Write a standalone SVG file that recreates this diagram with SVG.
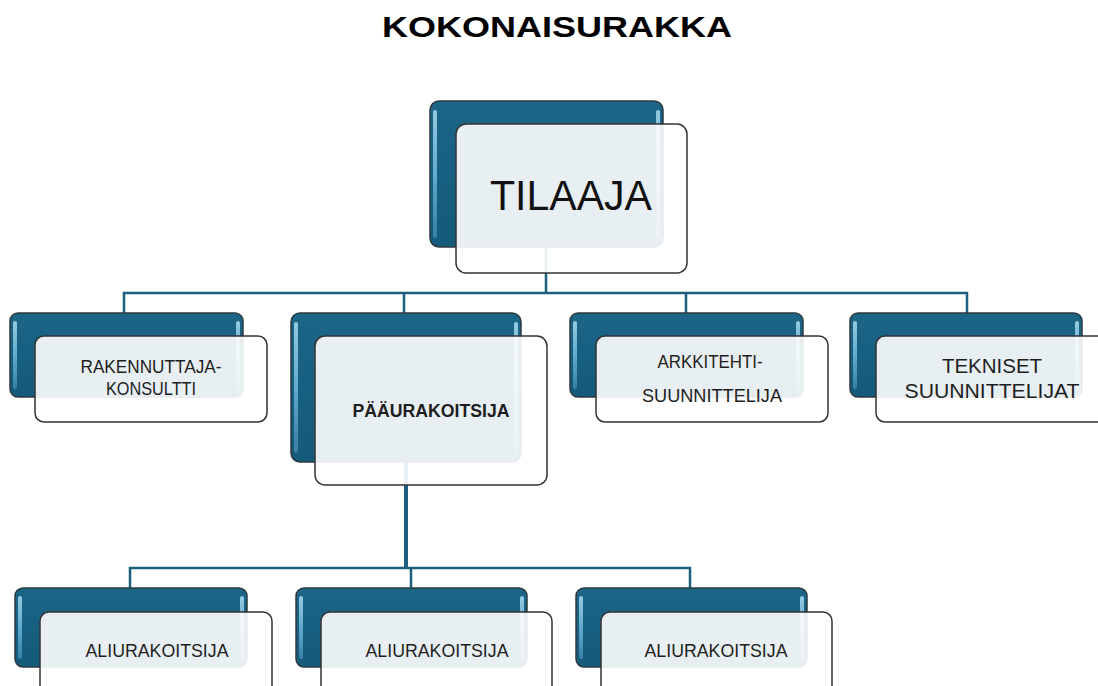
<svg xmlns="http://www.w3.org/2000/svg" width="1098" height="686" viewBox="0 0 1098 686">
<defs>
<linearGradient id="backGrad" x1="0" y1="0" x2="0" y2="1">
<stop offset="0" stop-color="#1b6587"/>
<stop offset="1" stop-color="#145a7a"/>
</linearGradient>
<linearGradient id="hl" x1="0" y1="0" x2="0" y2="1">
<stop offset="0" stop-color="#a8dcf2"/>
<stop offset="0.5" stop-color="#6fb8da"/>
<stop offset="1" stop-color="#3a86aa"/>
</linearGradient>
</defs>
<style>
.back{fill:url(#backGrad);stroke:#2e3a40;stroke-width:1.5}
.hl{fill:url(#hl);opacity:0.85}
.front{fill:#ffffff;fill-opacity:0.9;stroke:#333333;stroke-width:1.5}
.lbl{font-family:"Liberation Sans",Arial,sans-serif;fill:#1e1e1e;text-anchor:middle}
.sm{font-size:19px}
.conn{fill:none;stroke:#1d5f7e;stroke-width:2.5}
</style>
<rect width="1098" height="686" fill="#ffffff"/>
<text x="557" y="37" class="lbl" style="font-weight:bold;font-size:29px;fill:#000" textLength="350" lengthAdjust="spacingAndGlyphs">KOKONAISURAKKA</text>
<g id="connectors">
<path class="conn" d="M546 247V293M124 313V293H967V313M404 293V313M686 293V313"/>
<path class="conn" d="M406 462V568" style="stroke-width:4"/>
<path class="conn" d="M130 588V568H690V588M411 568V588"/>
</g>
<g id="tilaaja">
<rect class="back" x="430" y="101" width="233" height="146" rx="9"/>
<rect class="hl" x="433" y="110" width="4" height="128" rx="2"/>
<rect class="hl" x="656" y="110" width="4" height="128" rx="2"/>
<rect class="front" x="456" y="124" width="231" height="149" rx="10"/>
<text x="571" y="210" class="lbl" style="font-size:43px;fill:#111" textLength="162" lengthAdjust="spacingAndGlyphs">TILAAJA</text>
</g>
<g id="rakennuttaja">
<rect class="back" x="10" y="313" width="233" height="84" rx="8"/>
<rect class="hl" x="13" y="321" width="4" height="68" rx="2"/>
<rect class="hl" x="236" y="321" width="4" height="68" rx="2"/>
<rect class="front" x="35" y="336" width="232" height="86" rx="9"/>
<text x="151" y="373" class="lbl sm" textLength="141" lengthAdjust="spacingAndGlyphs">RAKENNUTTAJA-</text>
<text x="151" y="395" class="lbl sm" textLength="90" lengthAdjust="spacingAndGlyphs">KONSULTTI</text>
</g>
<g id="paaurakoitsija">
<rect class="back" x="291" y="313" width="230" height="149" rx="9"/>
<rect class="hl" x="294" y="322" width="4" height="131" rx="2"/>
<rect class="hl" x="514" y="322" width="4" height="131" rx="2"/>
<rect class="front" x="315" y="336" width="232" height="149" rx="10"/>
<text x="431" y="417" class="lbl sm" style="font-weight:bold" textLength="157" lengthAdjust="spacingAndGlyphs">PÄÄURAKOITSIJA</text>
</g>
<g id="arkkitehti">
<rect class="back" x="570" y="313" width="233" height="84" rx="8"/>
<rect class="hl" x="573" y="321" width="4" height="68" rx="2"/>
<rect class="hl" x="796" y="321" width="4" height="68" rx="2"/>
<rect class="front" x="596" y="336" width="232" height="86" rx="9"/>
<text x="710" y="368" class="lbl" style="font-size:18.5px" textLength="105" lengthAdjust="spacingAndGlyphs">ARKKITEHTI-</text>
<text x="712" y="402" class="lbl" style="font-size:18.5px" textLength="140" lengthAdjust="spacingAndGlyphs">SUUNNITTELIJA</text>
</g>
<g id="tekniset">
<rect class="back" x="850" y="313" width="232" height="84" rx="8"/>
<rect class="hl" x="853" y="321" width="4" height="68" rx="2"/>
<rect class="hl" x="1075" y="321" width="4" height="68" rx="2"/>
<rect class="front" x="876" y="336" width="232" height="86" rx="9"/>
<text x="992" y="373" class="lbl" style="font-size:20.5px">TEKNISET</text>
<text x="992" y="398" class="lbl" style="font-size:20.5px" textLength="175" lengthAdjust="spacingAndGlyphs">SUUNNITTELIJAT</text>
</g>
<g id="ali1">
<rect class="back" x="15" y="588" width="232" height="79" rx="8"/>
<rect class="hl" x="18" y="596" width="4" height="63" rx="2"/>
<rect class="hl" x="240" y="596" width="4" height="63" rx="2"/>
<rect class="front" x="40" y="612" width="232" height="100" rx="9"/>
<text x="157" y="657" class="lbl sm" textLength="143" lengthAdjust="spacingAndGlyphs">ALIURAKOITSIJA</text>
</g>
<g id="ali2">
<rect class="back" x="296" y="588" width="231" height="79" rx="8"/>
<rect class="hl" x="299" y="596" width="4" height="63" rx="2"/>
<rect class="hl" x="520" y="596" width="4" height="63" rx="2"/>
<rect class="front" x="321" y="612" width="231" height="100" rx="9"/>
<text x="437" y="657" class="lbl sm" textLength="143" lengthAdjust="spacingAndGlyphs">ALIURAKOITSIJA</text>
</g>
<g id="ali3">
<rect class="back" x="576" y="588" width="231" height="79" rx="8"/>
<rect class="hl" x="579" y="596" width="4" height="63" rx="2"/>
<rect class="hl" x="800" y="596" width="4" height="63" rx="2"/>
<rect class="front" x="601" y="612" width="231" height="100" rx="9"/>
<text x="716" y="657" class="lbl sm" textLength="143" lengthAdjust="spacingAndGlyphs">ALIURAKOITSIJA</text>
</g>
</svg>
